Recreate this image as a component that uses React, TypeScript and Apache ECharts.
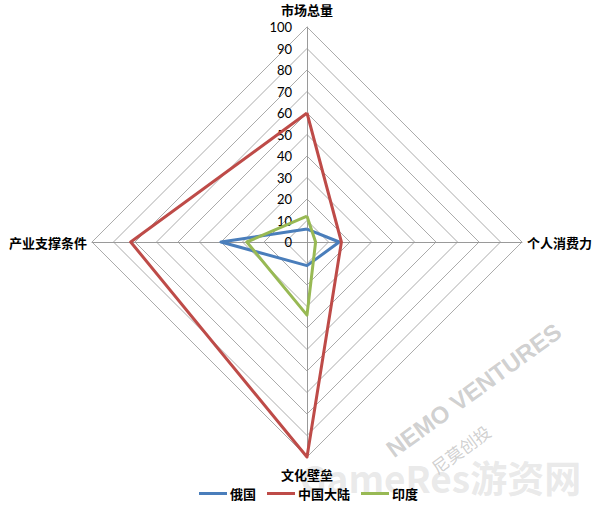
import React, { useEffect, useRef } from "react";
import * as echarts from "echarts";

// indicators listed counter-clockwise from the top (ECharts radar default order)
const indicators = ["市场总量", "产业支撑条件", "文化壁垒", "个人消费力"];
const indicatorMax = 100;
const seriesNames = ["俄国", "中国大陆", "印度"];
const russia = [6, 40, 11, 15];
const chinaMainland = [60, 82, 100, 16];
const india = [12, 28, 34, 4];
const colors = ["#4A7EBB", "#BE4B48", "#98B954"];

const nameGaps = [11, 5, 11, 5];

export default function App() {
  const ref = useRef<HTMLDivElement>(null);
  useEffect(() => {
    if (!ref.current) return;
    const chart = echarts.init(ref.current, null, { renderer: "svg" });
    const values = [russia, chinaMainland, india];
    chart.setOption({
      animation: false,
      backgroundColor: "#ffffff",
      color: colors,
      legend: {
        data: seriesNames,
        bottom: 6,
        left: 194,
        icon: "rect",
        itemWidth: 28,
        itemHeight: 3,
        itemGap: 11,
        textStyle: {
          color: "#000",
          fontSize: 13,
          fontWeight: "bold",
          fontFamily: "Noto Sans CJK SC",
          padding: [0, 0, 0, -2],
        },
      },
      radar: {
        center: [307, 242],
        radius: 215,
        shape: "polygon",
        splitNumber: 10,
        indicator: indicators.map((name, i) => ({
          name,
          max: indicatorMax,
          min: 0,
          nameGap: nameGaps[i],
          axisLabel:
            i === 0
              ? {
                  show: true,
                  color: "#000",
                  fontSize: 13,
                  fontFamily: "Lato",
                  margin: 15,
                }
              : { show: false },
        })),
        nameGap: 6,
        axisName: {
          color: "#000",
          fontSize: 13,
          fontWeight: "bold",
          fontFamily: "Noto Sans CJK SC",
        },
        axisLine: { lineStyle: { color: "#9a9a9a", width: 1 } },
        splitLine: { lineStyle: { color: "#ababab", width: 1 } },
        splitArea: { show: false },
        axisTick: { show: false },
        axisLabel: { show: false },
      },
      graphic: [
        {
          type: "text",
          x: 382,
          y: 442,
          rotation: (36 * Math.PI) / 180,
          style: {
            text: "NEMO VENTURES",
            fill: "rgba(150,150,150,0.45)",
            fontSize: 24,
            fontWeight: "bold",
            fontFamily: "Liberation Sans",
          },
        },
        {
          type: "text",
          x: 428,
          y: 462,
          rotation: (36 * Math.PI) / 180,
          style: {
            text: "尼莫创投",
            fill: "rgba(150,150,150,0.45)",
            fontSize: 17,
            fontFamily: "Noto Sans CJK SC",
          },
        },
        {
          type: "text",
          x: 300,
          y: 458,
          style: {
            text: "GameRes游资网",
            fill: "rgba(200,200,200,0.4)",
            fontSize: 37,
            fontWeight: "bold",
            fontFamily: "Noto Sans CJK SC",
          },
        },
      ],
      series: [
        {
          type: "radar",
          symbol: "none",
          data: seriesNames.map((n, i) => ({
            name: n,
            value: values[i],
            lineStyle: { color: colors[i], width: 3 },
            itemStyle: { color: colors[i] },
          })),
        },
      ],
    });
    return () => chart.dispose();
  }, []);
  return (
    <div
      ref={ref}
      style={{ position: "fixed", left: 0, top: 0, width: 600, height: 511 }}
    />
  );
}
